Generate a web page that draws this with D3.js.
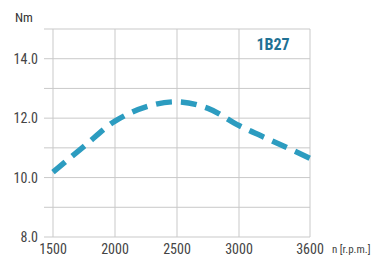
<!DOCTYPE html>
<html>
<head>
<meta charset="utf-8">
<script src="https://cdn.jsdelivr.net/npm/d3@7"></script>
<style>
  body { margin: 0; background: #fff; }
  text { font-family: "Liberation Sans Narrow", "Roboto Condensed", "Liberation Sans", sans-serif; }
</style>
</head>
<body>
<div id="chart"></div>
<script>
var rpm = [1500, 1750, 2000, 2250, 2500, 2750, 3000, 3300, 3600];
var torque = [10.18, 11.05, 11.9, 12.38, 12.55, 12.33, 11.75, 11.2, 10.65];
var xTicks = [1500, 2000, 2500, 3000, 3600];
var yGrid = [8, 9, 10, 11, 12, 13, 14, 15];
var yLabels = [8, 10, 12, 14];
var modelName = "1B27";

var margin = {top: 29, right: 68, bottom: 22, left: 53},
    width = 378 - margin.left - margin.right,
    height = 259 - margin.top - margin.bottom;

var svg = d3.select("#chart")
  .append("svg")
    .attr("width", 378)
    .attr("height", 259)
  .append("g")
    .attr("transform", "translate(" + margin.left + "," + margin.top + ")");

// last column is a bit narrower than the others
var x = d3.scaleLinear()
    .domain([1500, 3000, 3600])
    .range([0, 186, width]);

var y = d3.scaleLinear()
    .domain([8, 15])
    .range([height, 0]);

var gridColor = "#c9c9c9";

// horizontal grid, with a short tick to the left
svg.selectAll(".hgrid")
  .data(yGrid)
  .enter()
  .append("line")
    .attr("x1", -9)
    .attr("x2", width)
    .attr("y1", function(d) { return y(d); })
    .attr("y2", function(d) { return y(d); })
    .attr("stroke", gridColor)
    .attr("stroke-width", 1);

svg.selectAll(".vgrid")
  .data(xTicks)
  .enter()
  .append("line")
    .attr("x1", function(d) { return x(d); })
    .attr("x2", function(d) { return x(d); })
    .attr("y1", 0)
    .attr("y2", height)
    .attr("stroke", gridColor)
    .attr("stroke-width", 1);

svg.selectAll(".ylab")
  .data(yLabels)
  .enter()
  .append("text")
    .attr("x", -15)
    .attr("y", function(d) { return y(d) + 5; })
    .attr("text-anchor", "end")
    .attr("font-size", "14px")
    .attr("fill", "#444")
    .text(function(d) { return d.toFixed(1); });

svg.selectAll(".xlab")
  .data(xTicks)
  .enter()
  .append("text")
    .attr("x", function(d) { return x(d); })
    .attr("y", height + 17)
    .attr("text-anchor", "middle")
    .attr("font-size", "14px")
    .attr("fill", "#444")
    .text(function(d) { return d; });

svg.append("text")
    .attr("x", -38)
    .attr("y", -7)
    .attr("font-size", "13px")
    .attr("fill", "#333")
    .text("Nm");

svg.append("text")
    .attr("x", width + 22)
    .attr("y", height + 16)
    .attr("font-size", "11px")
    .attr("fill", "#444")
    .text("n [r.p.m.]");

svg.append("text")
    .attr("x", 220)
    .attr("y", 21)
    .attr("text-anchor", "middle")
    .attr("font-size", "16px")
    .attr("font-weight", "bold")
    .attr("fill", "#1f7194")
    .text(modelName);

var line = d3.line()
    .x(function(d, i) { return x(rpm[i]); })
    .y(function(d) { return y(d); })
    .curve(d3.curveCatmullRom.alpha(0.5));

svg.append("path")
    .datum(torque)
    .attr("d", line)
    .attr("fill", "none")
    .attr("stroke", "#2c9cc0")
    .attr("stroke-width", 5.5)
    .attr("stroke-dasharray", "16,9");
</script>
</body>
</html>
